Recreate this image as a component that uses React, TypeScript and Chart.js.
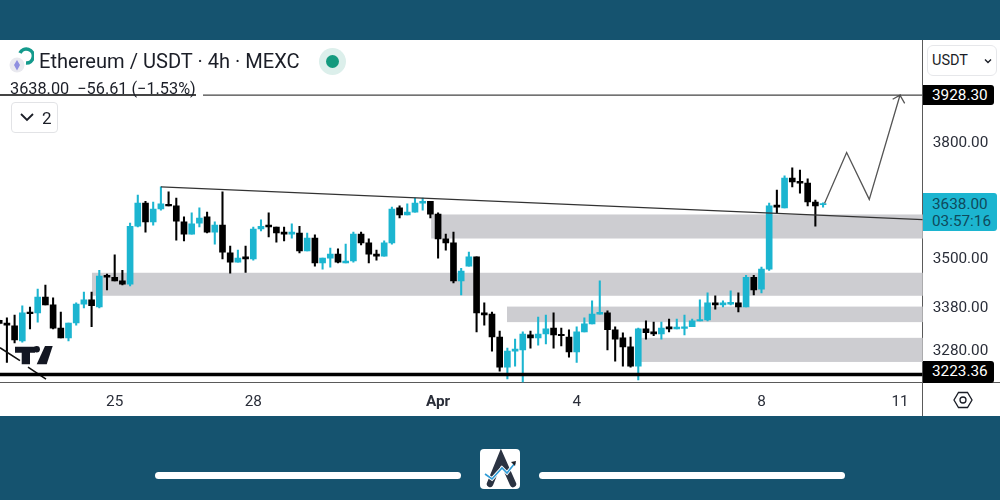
import { useEffect, useRef } from 'react';
import { Chart } from 'chart.js/auto';

// 4h candles, index 0 = first one on the left edge
const opens = [
  3349, 3343, 3336, 3301, 3369, 3367, 3405, 3386, 3331, 3308, 3343, 3388, 3398, 3381, 3458, 3453, 3444, 3436,
  3580, 3639, 3591, 3624, 3636, 3632, 3591, 3560, 3588, 3604, 3565, 3583, 3513, 3490, 3503, 3498, 3573, 3583,
  3578, 3565, 3560, 3563, 3518, 3550, 3488, 3500, 3510, 3488, 3493, 3560, 3538, 3510, 3505, 3538, 3627, 3609,
  3616, 3639, 3644, 3611, 3548, 3538, 3444, 3480, 3503, 3367, 3364, 3310, 3240, 3277, 3280, 3315, 3308, 3317,
  3331, 3316, 3310, 3275, 3322, 3341, 3364, 3367, 3327, 3308, 3287, 3242, 3329, 3322, 3317, 3334, 3329, 3330,
  3334, 3348, 3350, 3391, 3386, 3388, 3391, 3381, 3453, 3424, 3473, 3634, 3627, 3704, 3696, 3691, 3642, 3635,
];
const highs = [
  3350, 3355, 3362, 3384, 3381, 3424, 3434, 3403, 3369, 3343, 3391, 3417, 3417, 3470, 3461, 3508, 3470, 3588,
  3660, 3644, 3642, 3681, 3668, 3652, 3604, 3614, 3627, 3616, 3591, 3668, 3530, 3520, 3530, 3578, 3596, 3614,
  3578, 3578, 3586, 3580, 3563, 3558, 3500, 3525, 3523, 3535, 3565, 3565, 3548, 3520, 3543, 3629, 3632, 3637,
  3652, 3652, 3644, 3614, 3560, 3565, 3475, 3515, 3503, 3391, 3369, 3324, 3284, 3305, 3322, 3324, 3357, 3362,
  3367, 3331, 3327, 3334, 3355, 3396, 3444, 3372, 3334, 3320, 3310, 3331, 3348, 3345, 3345, 3352, 3352, 3362,
  3352, 3398, 3415, 3408, 3396, 3420, 3415, 3458, 3458, 3478, 3639, 3673, 3710, 3731, 3725, 3702, 3647, 3640,
];
const lows = [
  3341, 3251, 3296, 3298, 3329, 3345, 3386, 3329, 3308, 3301, 3338, 3379, 3334, 3379, 3422, 3444, 3434, 3432,
  3578, 3565, 3583, 3621, 3632, 3545, 3543, 3560, 3578, 3563, 3535, 3498, 3463, 3490, 3465, 3495, 3568, 3553,
  3540, 3543, 3550, 3513, 3518, 3480, 3473, 3478, 3488, 3488, 3490, 3533, 3488, 3495, 3505, 3535, 3601, 3609,
  3616, 3621, 3601, 3500, 3520, 3439, 3410, 3480, 3322, 3338, 3277, 3231, 3213, 3242, 3206, 3284, 3291, 3294,
  3284, 3289, 3263, 3251, 3322, 3341, 3364, 3280, 3254, 3242, 3240, 3211, 3305, 3313, 3305, 3322, 3329, 3315,
  3334, 3348, 3348, 3376, 3381, 3386, 3369, 3381, 3410, 3415, 3470, 3614, 3627, 3681, 3665, 3632, 3580, 3629,
];
const closes = [
  3342, 3338, 3303, 3367, 3365, 3405, 3386, 3331, 3308, 3343, 3388, 3398, 3384, 3456, 3453, 3444, 3436, 3580,
  3639, 3591, 3624, 3637, 3632, 3593, 3560, 3586, 3601, 3565, 3583, 3515, 3490, 3500, 3498, 3573, 3580, 3578,
  3563, 3560, 3565, 3518, 3550, 3488, 3500, 3510, 3490, 3493, 3560, 3538, 3510, 3505, 3538, 3624, 3609, 3616,
  3639, 3644, 3611, 3548, 3538, 3444, 3468, 3503, 3367, 3362, 3310, 3240, 3277, 3282, 3317, 3308, 3317, 3329,
  3315, 3313, 3275, 3322, 3341, 3364, 3368, 3327, 3305, 3287, 3242, 3329, 3320, 3317, 3331, 3329, 3333, 3334,
  3348, 3351, 3391, 3386, 3391, 3392, 3381, 3453, 3422, 3473, 3632, 3629, 3704, 3694, 3691, 3642, 3632, 3638,
];

const dateTicks = [15, 33, 57, 75, 99, 117];
const dateLabels = ['25', '28', 'Apr', '4', '8', '11'];
const priceTicks = [3280, 3380, 3500, 3800];

// grey zones, they run to the right edge of the plot
const zoneStarts = [12.05, 56.1, 65.95, 82.96];
const zoneTops = [3464, 3610, 3382, 3308];
const zoneBottoms = [3408, 3549, 3345, 3252];

const xMin = 0.104;
const xMax = 119.94;
const yMin = 3205;
const yMax = 4084.7;

const trendX = [21, xMax];
const trendY = [3681, 3597];
const targetX = [xMin, 25.56, 25.56, 26.47, xMax];
const targetY = [3928.3, 3928.3, null, 3928.3, 3928.3];
const supportX = [xMin, xMax];
const supportY = [3223.36, 3223.36];
const slashX = [xMin, 2.7, 2.7, 3.74, 6.08];
const slashY = [3285, 3255, null, 3240, 3212.6];
const arrowX = [107.2, 110.06, 113, 116.99, 116.04, 116.99, 117.6];
const arrowY = [3638.6, 3772, 3648.8, 3928, 3917, 3928, 3905.6];

const UP = '#1cb5d0';
const DOWN = '#000000';
const TEAL = '#15536f';
const INK = '#1b1e27';

const zonesPlugin = {
  id: 'zones',
  beforeDatasetsDraw(chart: any) {
    const { ctx, scales, chartArea } = chart;
    ctx.save();
    ctx.fillStyle = '#cdcdd1';
    zoneStarts.forEach((start, i) => {
      const left = scales.x.getPixelForValue(start);
      const top = scales.y.getPixelForValue(zoneTops[i]);
      const bottom = scales.y.getPixelForValue(zoneBottoms[i]);
      ctx.fillRect(left, top, chartArea.right - left, bottom - top);
    });
    ctx.restore();
  },
};

function line(xs: number[], ys: (number | null)[], color: string, width: number) {
  return {
    type: 'line',
    data: xs.map((x, i) => ({ x, y: ys[i] })),
    borderColor: color,
    borderWidth: width,
    pointRadius: 0,
    tension: 0,
    order: 1,
  };
}

function CandleChart() {
  const canvasRef = useRef<HTMLCanvasElement>(null);

  useEffect(() => {
    if (!canvasRef.current) return;
    const colors = opens.map((o, i) => (closes[i] >= o ? UP : DOWN));

    const chart = new Chart(canvasRef.current, {
      type: 'bar',
      data: {
        datasets: [
          {
            type: 'bar',
            data: opens.map((_, i) => ({ x: i, y: [lows[i], highs[i]] })),
            backgroundColor: colors,
            barThickness: 1.4,
            grouped: false,
            order: 3,
          },
          {
            type: 'bar',
            data: opens.map((o, i) => ({ x: i, y: [o, closes[i]] })),
            backgroundColor: colors,
            barThickness: 6,
            grouped: false,
            order: 2,
          },
          line(supportX, supportY, '#000000', 3.6),
          line(targetX, targetY, '#444444', 1.2),
          line(trendX, trendY, '#333333', 1.3),
          line(slashX, slashY, '#111111', 1.6),
          line(arrowX, arrowY, '#555555', 1.3),
        ] as any,
      },
      options: {
        responsive: false,
        animation: false,
        events: [],
        layout: { padding: { left: 0, right: 0, top: 40, bottom: 84 } },
        plugins: { legend: { display: false }, tooltip: { enabled: false } },
        scales: {
          x: {
            type: 'linear',
            offset: false,
            min: xMin,
            max: xMax,
            grid: { display: false, drawTicks: false },
            border: { display: false },
            afterBuildTicks: (axis: any) => {
              axis.ticks = dateTicks.map((value) => ({ value }));
            },
            afterFit: (axis: any) => {
              axis.height = 33.5;
            },
            ticks: {
              autoSkip: false,
              maxRotation: 0,
              padding: 10,
              color: '#2a2e39',
              font: (c: any) => ({
                family: 'Roboto',
                size: 15.3,
                weight: c.tick && c.tick.value === 57 ? 'bold' : 'normal',
              }),
              callback: (v: any) => dateLabels[dateTicks.indexOf(v)],
            },
          },
          y: {
            type: 'logarithmic',
            position: 'right',
            min: yMin,
            max: yMax,
            grid: { display: false, drawTicks: false },
            border: { display: false },
            afterBuildTicks: (axis: any) => {
              axis.ticks = priceTicks.map((value) => ({ value }));
            },
            afterFit: (axis: any) => {
              axis.width = 77.3;
            },
            ticks: {
              autoSkip: false,
              padding: 10,
              labelOffset: 1,
              color: '#2a2e39',
              font: { family: 'Roboto', size: 15.3 },
              callback: (v: any) => Number(v).toFixed(2),
            },
          },
        },
      } as any,
      plugins: [zonesPlugin],
    });

    return () => chart.destroy();
  }, []);

  return (
    <canvas
      ref={canvasRef}
      width={1000}
      height={500}
      style={{ position: 'absolute', left: 0, top: 0, width: 1000, height: 500 }}
    />
  );
}

function box(left: number, top: number, width: number, height: number, extra: any = {}) {
  return { position: 'absolute', left, top, width, height, ...extra } as any;
}

function PriceTag({ top, height, width, bg, children, color }: any) {
  return (
    <div
      style={box(923, top, width, height, {
        background: bg,
        color,
        borderRadius: '0 3px 3px 0',
        fontSize: 15.3,
        lineHeight: height + 'px',
        paddingLeft: 9,
        boxSizing: 'border-box',
      })}
    >
      {children}
    </div>
  );
}

export default function App() {
  return (
    <div style={box(0, 0, 1000, 500, { background: TEAL, overflow: 'hidden', fontFamily: 'Roboto', color: INK })}>
      <div style={box(0, 40, 1000, 376, { background: '#ffffff' })} />
      <div style={box(922, 40, 1.2, 376, { background: '#5a5a5a' })} />
      <div style={box(0, 382, 1000, 1.2, { background: '#5a5a5a' })} />

      <CandleChart />

      {/* TradingView mark */}
      <svg style={box(0, 340, 60, 30)} viewBox="0 340 60 30">
        <path d="M15 346.7H35V352.7H30V364.3H21.7V352.7H15Z" fill="#131722" />
        <circle cx="36.7" cy="349.3" r="3.2" fill="#131722" />
        <path d="M45 346H52.7L46.7 364.3H36.7Z" fill="#131722" />
      </svg>

      {/* header */}
      <svg style={box(8, 44, 26, 34)} viewBox="8 44 26 34">
        <circle cx="17" cy="65" r="7.5" fill="#e9e9ef" />
        <path d="M17 60L20 65L17 70.5L14 65Z" fill="#8f8fe0" />
        <path d="M20 53A7 7 0 1 1 26 63" fill="none" stroke="#149a8c" strokeWidth="3.6" />
      </svg>
      <div style={box(39, 49, 280, 24, { fontSize: 20.1, lineHeight: '24px', whiteSpace: 'nowrap' })}>
        Ethereum / USDT · 4h · MEXC
      </div>
      <div style={box(319, 48, 27, 27, { borderRadius: '50%', background: '#dcefeb' })} />
      <div style={box(326, 55, 13, 13, { borderRadius: '50%', background: '#149a7e' })} />
      <div style={box(0, 94.4, 196, 1.2, { background: '#444444' })} />
      <div style={box(10, 79, 200, 20, { fontSize: 16.3, lineHeight: '20px', whiteSpace: 'nowrap' })}>
        3638.00&nbsp; −56.61 (−1.53%)
      </div>
      <div
        style={box(11, 102, 47, 31, {
          border: '1px solid #e2e3e6',
          borderRadius: 4,
          boxSizing: 'border-box',
          background: '#ffffff',
        })}
      />
      <svg style={box(19, 110, 16, 14)} viewBox="0 0 16 14">
        <path d="M2 4L8 10L14 4" fill="none" stroke={INK} strokeWidth="1.8" />
      </svg>
      <div style={box(42, 106, 14, 24, { fontSize: 17, lineHeight: '24px' })}>2</div>

      {/* right column */}
      <div
        style={box(927, 45, 70, 31, {
          border: '1px solid #e6e7ea',
          borderRadius: 6,
          boxSizing: 'border-box',
          background: '#ffffff',
        })}
      />
      <div style={box(932, 50, 50, 22, { fontSize: 14.5, lineHeight: '22px' })}>USDT</div>
      <svg style={box(983, 56, 10, 10)} viewBox="0 0 10 10">
        <path d="M2 3.5L5 6.5L8 3.5" fill="none" stroke={INK} strokeWidth="1.4" />
      </svg>
      <PriceTag top={85} height={20} width={70.5} bg="#000000" color="#ffffff">
        3928.30
      </PriceTag>
      <PriceTag top={361} height={21.5} width={70.5} bg="#000000" color="#ffffff">
        3223.36
      </PriceTag>
      <div
        style={box(923, 193, 74, 38, {
          background: UP,
          color: '#0f4a5c',
          borderRadius: '0 3px 3px 0',
          fontSize: 15.3,
          lineHeight: '17.5px',
          paddingLeft: 9,
          paddingTop: 2.5,
          boxSizing: 'border-box',
        })}
      >
        3638.00
        <br />
        03:57:16
      </div>
      <svg style={box(952, 390, 22, 20)} viewBox="0 0 22 20">
        <path d="M6.5 2.5H15.5L20 10L15.5 17.5H6.5L2 10Z" fill="none" stroke={INK} strokeWidth="1.3" />
        <circle cx="11" cy="10" r="3" fill="none" stroke={INK} strokeWidth="1.3" />
      </svg>

      {/* footer */}
      <div style={box(155, 472, 306, 7, { background: '#ffffff', borderRadius: 4 })} />
      <div style={box(539, 472, 306, 7, { background: '#ffffff', borderRadius: 4 })} />
      <div style={box(480, 449, 40, 40, { background: '#ffffff', borderRadius: 4 })} />
      <svg style={box(480, 449, 40, 40)} viewBox="480 449 40 40">
        <path d="M490 484L501 457L513 484" fill="none" stroke="#2b3342" strokeWidth="6.5" strokeLinecap="round" />
        <path d="M485 474L492 479L502 468L507 473L515 463" fill="none" stroke="#ffffff" strokeWidth="3.4" />
        <path d="M485 474L492 479L502 468L507 473L515 463" fill="none" stroke="#2e9bd6" strokeWidth="1.6" />
        <path d="M511 462L516 461L515 466Z" fill="#1b1e27" />
      </svg>
    </div>
  );
}
